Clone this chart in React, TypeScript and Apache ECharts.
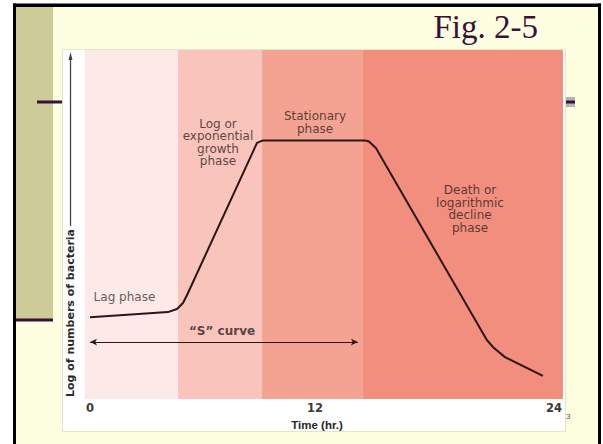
import React, { useEffect, useRef } from "react";
import * as echarts from "echarts";

// ---- data ----
const timeTicks = [0, 12, 24];
const phaseEdges = [-0.26, 4.55, 8.9, 14.12, 24.47];
const phaseColors = ["#fde9e7", "#f8c4bc", "#f4a392", "#f18e7e"];
const curveTime = [0, 4.03, 4.5, 4.81, 5.02, 8.64, 8.95, 14.22, 14.43, 14.79, 20.53, 20.9, 21.47, 23.43];
const curveLogCount = [23.4, 24.9, 25.8, 27.5, 29.8, 73.4, 74.1, 74.1, 73.8, 71.9, 16.9, 14.6, 12.0, 6.6];
const phaseNames = [
  "Lag phase",
  "Log or\nexponential\ngrowth\nphase",
  "Stationary\nphase",
  "Death or\nlogarithmic\ndecline\nphase",
];
const phaseLabelTime = [0.16, 6.62, 11.64, 19.66];
const phaseLabelLevel = [29.2, 73.5, 79.2, 54.4];
const sCurveText = "\u201CS\u201D curve";
const sCurveSpan = [0, 13.86];
const sCurveLevel = 16.3;
const sCurveLabelPos = [6.83, 19.5];

const TXT = "#331e1e";
const PURPLE = "#3a0f3a";

export default function App() {
  const ref = useRef<HTMLDivElement>(null);
  useEffect(() => {
    if (!ref.current) return;
    const chart = echarts.init(ref.current, null, { renderer: "svg" });
    const curve = curveTime.map((t, i) => [t, curveLogCount[i]]);
    const labelData: any[] = phaseNames.map((n, i) => ({
      name: n,
      value: [phaseLabelTime[i], phaseLabelLevel[i]],
      label:
        i === 0
          ? { position: "right", distance: 0, align: "left", color: "#3d3333" }
          : { position: "inside", align: "center", verticalAlign: "middle" },
    }));
    labelData.push({
      name: sCurveText,
      value: sCurveLabelPos,
      label: { position: "inside", fontWeight: "bold", color: "#2e1e1e" },
    });

    chart.setOption({
      animation: false,
      backgroundColor: "#ffffff",
      graphic: [
        { type: "rect", z: -13, shape: { x: 13, y: 4, width: 588, height: 440 }, style: { fill: "#fefee0" } },
        { type: "rect", z: -12, shape: { x: 16, y: 7, width: 37, height: 313 }, style: { fill: "#cccc99" } },
        { type: "rect", z: -11, shape: { x: 13, y: 3.5, width: 588, height: 3.5 }, style: { fill: "#000" } },
        { type: "rect", z: -11, shape: { x: 13, y: 3.5, width: 3, height: 441 }, style: { fill: "#000" } },
        { type: "rect", z: -11, shape: { x: 598, y: 3.5, width: 3, height: 441 }, style: { fill: "#000" } },
        { type: "rect", z: -11, shape: { x: 16, y: 318.5, width: 37, height: 3 }, style: { fill: PURPLE } },
        { type: "rect", z: -11, shape: { x: 37, y: 100.5, width: 26, height: 3 }, style: { fill: PURPLE } },
        { type: "rect", z: -11, shape: { x: 566, y: 97, width: 9, height: 10 }, style: { fill: "#b3b3b3" } },
        { type: "rect", z: -10, shape: { x: 566, y: 100.5, width: 9, height: 3 }, style: { fill: PURPLE } },
        { type: "rect", z: -9, shape: { x: 62.5, y: 49.5, width: 503, height: 382 }, style: { fill: "#ffffff", stroke: "#e4e4c6", lineWidth: 1 } },
        {
          type: "text", z: 5, x: 538, y: 27,
          style: { text: "Fig. 2-5", font: "33px 'Liberation Serif', 'Times New Roman', serif", fill: PURPLE, align: "right", verticalAlign: "middle" },
        },
        { type: "line", z: 5, shape: { x1: 70.5, y1: 226, x2: 70.5, y2: 57 }, style: { stroke: "#444", lineWidth: 1.3 } },
        { type: "polygon", z: 5, shape: { points: [[70.5, 52], [68.5, 60], [72.5, 60]] }, style: { fill: "#444" } },
        {
          type: "text", z: 5, x: 70.5, y: 313, rotation: Math.PI / 2,
          style: { text: "Log of numbers of bacteria", font: "bold 11px 'DejaVu Sans', sans-serif", fill: "#2a2a2a", align: "center", verticalAlign: "middle" },
        },
        {
          type: "text", z: 5, x: 566, y: 416,
          style: { text: "3", font: "8px 'Liberation Sans', Arial, sans-serif", fill: "#555", align: "left", verticalAlign: "middle" },
        },
      ],
      grid: { left: 85, right: 40, top: 50, bottom: 45 },
      xAxis: {
        type: "value",
        min: phaseEdges[0],
        max: phaseEdges[phaseEdges.length - 1],
        axisLine: { show: false },
        axisTick: { show: false },
        splitLine: { show: false },
        axisLabel: {
          customValues: timeTicks,
          margin: 3,
          formatter: (v: number) => (v === 12 ? "{s|" + v + "}" : "{n|" + v + "}"),
          rich: {
            n: { fontFamily: "DejaVu Sans", fontWeight: "bold", fontSize: 11.5, color: "#3a3a3a" },
            s: { fontFamily: "DejaVu Sans", fontWeight: "bold", fontSize: 11.5, color: "#3a3a3a", padding: [0, 14, 0, 0] },
          },
        },
        name: "Time (hr.)",
        nameLocation: "middle",
        nameGap: 18,
        nameTextStyle: { fontFamily: "Liberation Sans", fontWeight: "bold", fontSize: 11.5, color: "#262626", padding: [0, 14, 0, 0] },
      },
      yAxis: { type: "value", min: 0, max: 100, show: false },
      series: [
        {
          type: "line",
          z: 1,
          silent: true,
          data: curve,
          showSymbol: false,
          lineStyle: { opacity: 0, width: 0 },
          markArea: {
            silent: true,
            data: phaseColors.map((c, i) => [
              { xAxis: phaseEdges[i], itemStyle: { color: c, opacity: 1 } },
              { xAxis: phaseEdges[i + 1] },
            ]),
          },
        },
        {
          type: "line",
          z: 2,
          silent: true,
          data: [
            [sCurveSpan[0], sCurveLevel],
            [sCurveSpan[1], sCurveLevel],
          ],
          showSymbol: false,
          lineStyle: { opacity: 0, width: 0 },
          markLine: {
            silent: true,
            symbol: ["arrow", "arrow"],
            symbolSize: [5, 7],
            label: { show: false },
            lineStyle: { color: "#2b1515", width: 1, type: "solid" },
            data: [[{ coord: [sCurveSpan[0], sCurveLevel] }, { coord: [sCurveSpan[1], sCurveLevel] }]],
          },
        },
        {
          type: "line",
          z: 3,
          silent: true,
          data: curve,
          showSymbol: false,
          lineStyle: { color: "#2b1515", width: 2 },
        },
        {
          type: "scatter",
          z: 4,
          silent: true,
          symbolSize: 1,
          itemStyle: { color: "rgba(0,0,0,0)" },
          data: labelData,
          label: {
            show: true,
            formatter: (p: any) => p.name,
            fontFamily: "DejaVu Sans",
            fontSize: 12,
            lineHeight: 12.5,
            color: TXT,
          },
        },
      ],
    });
    return () => chart.dispose();
  }, []);
  return <div ref={ref} style={{ position: "fixed", left: 0, top: 0, width: 603, height: 444 }} />;
}
